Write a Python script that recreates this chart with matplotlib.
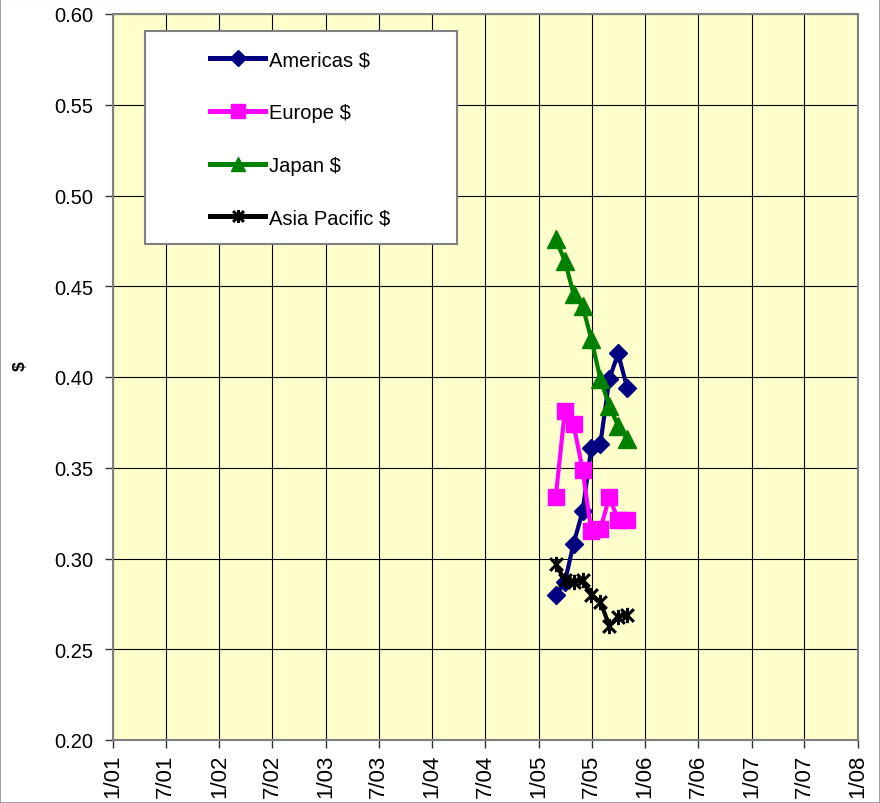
import datetime as dt
import matplotlib
matplotlib.use("Agg")
import matplotlib.pyplot as plt
from matplotlib.path import Path
from matplotlib.patches import Rectangle

plt.rcParams['font.family'] = ['Liberation Sans', 'DejaVu Sans']

# ---- data ----
dates = [dt.date(2005, 2, 28), dt.date(2005, 3, 31), dt.date(2005, 4, 30),
         dt.date(2005, 5, 31), dt.date(2005, 6, 30), dt.date(2005, 7, 31),
         dt.date(2005, 8, 31), dt.date(2005, 9, 30), dt.date(2005, 10, 31)]
americas = [0.280, 0.287, 0.308, 0.326, 0.361, 0.363, 0.399, 0.413, 0.394]
europe = [0.334, 0.381, 0.374, 0.349, 0.315, 0.316, 0.334, 0.321, 0.321]
japan = [0.476, 0.464, 0.446, 0.439, 0.421, 0.399, 0.384, 0.373, 0.366]
asia = [0.297, 0.288, 0.287, 0.288, 0.280, 0.276, 0.263, 0.268, 0.269]

series_names = ["Americas $", "Europe $", "Japan $", "Asia Pacific $"]
y_ticks = [0.20, 0.25, 0.30, 0.35, 0.40, 0.45, 0.50, 0.55, 0.60]
x_ticks = [dt.date(y, m, 1) for y in range(2001, 2008) for m in (1, 7)] + [dt.date(2008, 1, 1)]

# ---- figure ----
W, H = 880, 804
fig = plt.figure(figsize=(W / 100, H / 100), dpi=100)
ax = fig.add_axes([113 / W, (H - 741) / H, 745 / W, 726 / H])
ax.set_facecolor('#FFFFCC')

star = Path([(-1, -1), (1, 1), (-1, 1), (1, -1), (0, -1.2), (0, 1.2)],
            [Path.MOVETO, Path.LINETO, Path.MOVETO, Path.LINETO, Path.MOVETO, Path.LINETO])

lw = 3.0
l1, = ax.plot(dates, americas, color='#000080', lw=lw, marker='D', ms=9,
              mfc='#000080', mec='#000080', zorder=3, label=series_names[0])
l2, = ax.plot(dates, europe, color='#FF00FF', lw=lw, marker='s', ms=11.5,
              mfc='#FF00FF', mec='#FF00FF', zorder=3, label=series_names[1])
l3, = ax.plot(dates, japan, color='#008000', lw=lw, marker='^', ms=12.5,
              mfc='#008000', mec='#008000', zorder=3, label=series_names[2])
l4, = ax.plot(dates, asia, color='black', lw=lw, marker=star, ms=11,
              mfc='black', mec='black', mew=2.2, zorder=3, label=series_names[3])

ax.set_xlim(dt.date(2001, 1, 1), dt.date(2008, 1, 1))
ax.set_ylim(0.20, 0.60)
ax.set_yticks(y_ticks)
ax.set_yticklabels([f"{v:.2f}" for v in y_ticks])
ax.set_xticks(x_ticks)
ax.set_xticklabels([f"{d.month}/{d:%y}" for d in x_ticks], rotation=90)
ax.tick_params(axis='y', labelsize=14.5, length=6, width=1, color='#333333', pad=8)
ax.tick_params(axis='x', labelsize=16, length=6, width=1, color='#333333', pad=4)
ax.grid(True, color='black', lw=0.8, zorder=1)
ax.set_axisbelow(True)
for s in ax.spines.values():
    s.set_color('#808080')
    s.set_linewidth(1.5)

ax.set_ylabel('$', fontsize=12.5, fontweight='bold')
ax.yaxis.set_label_coords((28 - 113) / 745, (741 - 366) / 726)

# legend frame
frame = Rectangle((145 / W, 1 - 245 / H), 312 / W, 213 / H,
                  transform=fig.transFigure, facecolor='white',
                  edgecolor='#808080', lw=1.5, zorder=4, clip_on=False)
ax.add_patch(frame)
leg = ax.legend(handles=[l1, l2, l3, l4], loc='upper left', frameon=False,
                bbox_to_anchor=(210 / W, 1 - 51 / H), bbox_transform=fig.transFigure,
                borderpad=0, borderaxespad=0, fontsize=14.5, handlelength=2.75,
                handletextpad=0.2, labelspacing=1.68, markerscale=0.85)
leg.set_zorder(5)
for h in leg.get_lines():
    h.set_linewidth(3.6)

# outer border
fig.add_artist(Rectangle((0, 0), 1, 1, transform=fig.transFigure, fill=False,
                         edgecolor='#A0A0A0', lw=1.5))

fig.savefig('out.png', dpi=100)
